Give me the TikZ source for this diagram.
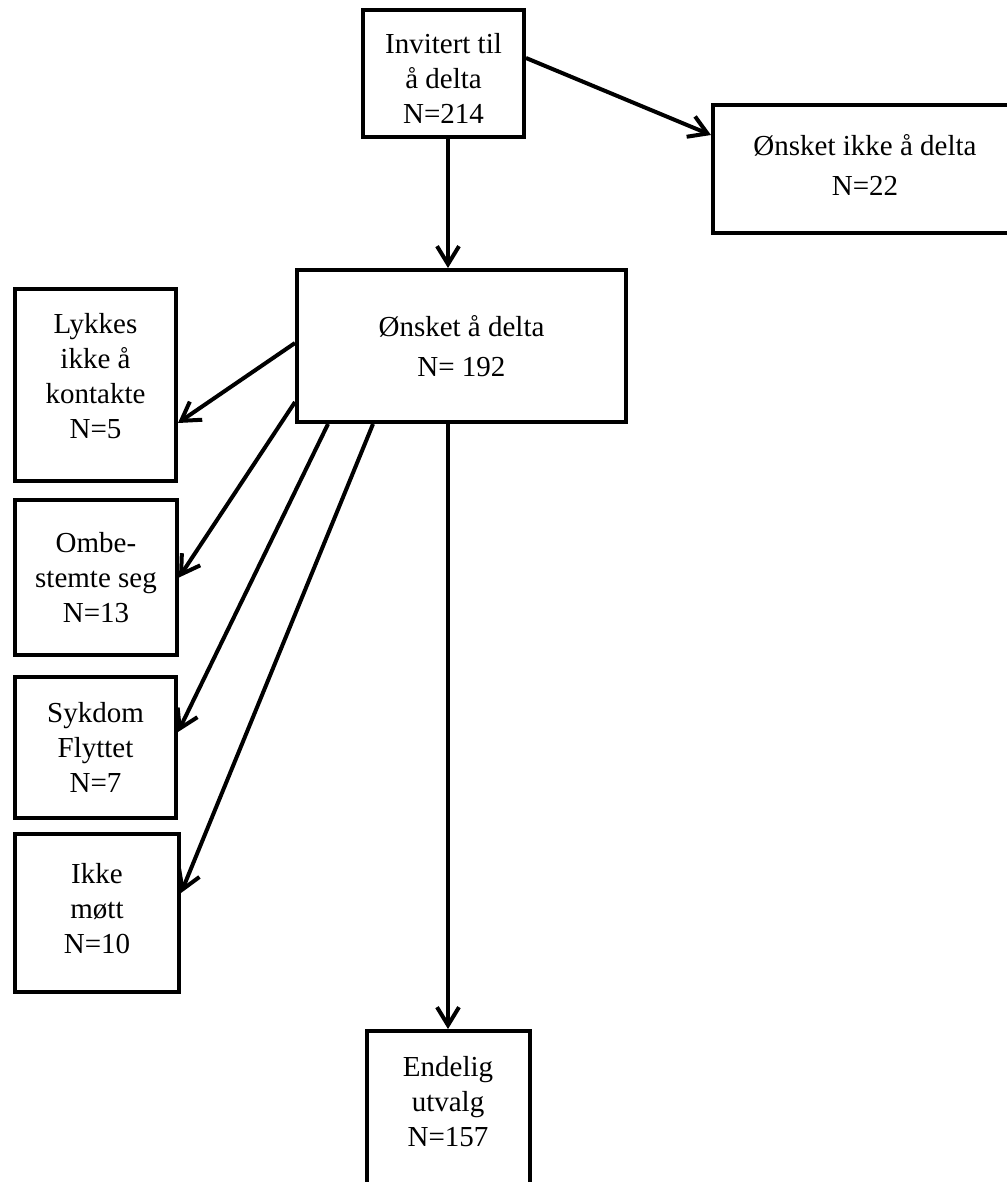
\documentclass[tikz,border=0pt]{standalone}
\usepackage{fontspec}
\setmainfont{Liberation Serif}
\usetikzlibrary{arrows.meta,calc}
\newcommand{\tup}[1]{\rule[-#1]{0pt}{#1}}
\begin{document}
\begin{tikzpicture}[x=0.5pt,y=-0.5pt,
  box/.style={draw, line width=2pt, align=center, inner sep=0pt,
    font=\fontsize{14.5pt}{17.5pt}\selectfont},
  arr/.style={line width=2pt, -{Straight Barb[length=9pt,width=11pt]}}]
\useasboundingbox (0,0) rectangle (1006,1182);
\node[box, minimum width=80.5pt, minimum height=63.5pt] (inv) at (443.5,73.5) {\rule{0pt}{15pt}Invitert til\\å delta\\N=214};
\node[box, minimum width=152pt, minimum height=64pt] (nikke) at (865,169) {Ønsket ikke å delta\\[2.5pt]N=22\tup{4pt}};
\node[box, minimum width=164.5pt, minimum height=76pt] (onsk) at (461.5,346) {Ønsket å delta\\[2.5pt]N= 192};
\node[box, minimum width=80.5pt, minimum height=96pt] (lyk) at (95.5,385) {Lykkes\\ikke å\\kontakte\\N=5\tup{9pt}};
\node[box, minimum width=81pt, minimum height=77.5pt] (omb) at (96,577.5) {Ombe-\\stemte seg\\N=13};
\node[box, minimum width=80.5pt, minimum height=70.5pt] (syk) at (95.5,747.5) {Sykdom\\Flyttet\\N=7};
\node[box, minimum width=82pt, minimum height=79pt] (ikke) at (97,913) {Ikke\\møtt\\N=10\tup{4.5pt}};
\node[box, minimum width=81.5pt, minimum height=80.5pt] (end) at (448,1111.5) {Endelig\\utvalg\\N=157\tup{10pt}};

\draw[arr] ($(inv.east)+(0,-15.5)$) -- ($(nikke.west)+(0,-34)$);
\draw[arr] ($(inv.south)+(4.5,0)$) -- ($(onsk.north)+(-13.5,0)$);
\draw[arr] ($(onsk.west)+(0,-3)$) -- ($(lyk.east)+(0,38)$);
\draw[arr] ($(onsk.west)+(0,56)$) -- (omb.east);
\draw[arr] ($(onsk.south)+(-133.5,0)$) -- ($(syk.east)+(0,-15.5)$);
\draw[arr] ($(onsk.south)+(-88.5,0)$) -- ($(ikke.east)+(0,-20)$);
\draw[arr] ($(onsk.south)+(-13.5,0)$) -- (end.north);
\end{tikzpicture}
\end{document}
